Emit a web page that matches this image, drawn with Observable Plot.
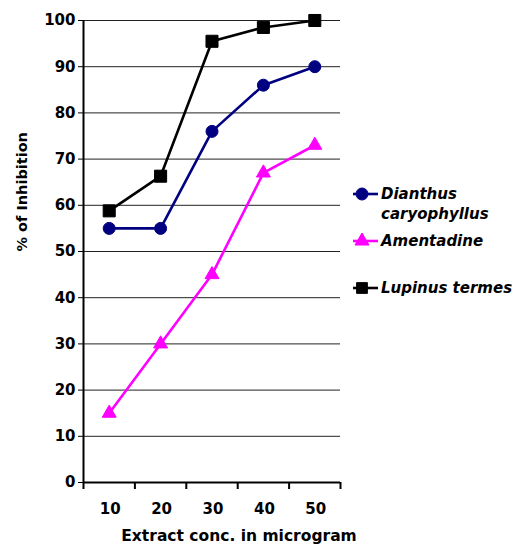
<!DOCTYPE html>
<html>
<head>
<meta charset="utf-8">
<script src="https://cdn.jsdelivr.net/npm/d3@7"></script>
<script src="https://cdn.jsdelivr.net/npm/@observablehq/plot@0.6"></script>
<style>
  html, body { margin: 0; padding: 0; background: #fff; }
  #wrap { position: relative; width: 520px; height: 547px; font-family: "DejaVu Sans", sans-serif; }
  #legend { position: absolute; left: 352px; top: 184px; font-weight: bold; font-style: italic; font-size: 15px; color: #000; font-family: "DejaVu Sans", sans-serif; }
  .item { position: absolute; left: 0; white-space: nowrap; }
  .item svg { position: absolute; left: 0; top: 2px; }
  .item span { position: absolute; left: 29px; top: 0; line-height: 20px; }
</style>
</head>
<body>
<div id="wrap"></div>
<script>
const concentrations = [10, 20, 30, 40, 50];
const dianthus = [55, 55, 76, 86, 90];
const amentadine = [15, 30, 45, 67, 73];
const lupinus = [58.8, 66.3, 95.5, 98.5, 100];
const yTicks = [0, 10, 20, 30, 40, 50, 60, 70, 80, 90, 100];
const xBoundaries = [5, 15, 25, 35, 45, 55];

const seriesNames = ["Dianthus caryophyllus", "Amentadine", "Lupinus termes"];
const seriesValues = [dianthus, amentadine, lupinus];
const seriesColors = ["#000080", "#ff00ff", "#000000"];
const seriesSymbols = ["circle", "triangle", "square"];
const seriesR = [6, 5.2, 6.8];

const rows = [];
seriesNames.forEach((name, i) => {
  concentrations.forEach((c, j) => rows.push({series: name, x: c, y: seriesValues[i][j]}));
});

const font = "'DejaVu Sans', sans-serif";

const marks = [
  Plot.ruleY(yTicks.filter(d => d > 0), {stroke: "#222", strokeWidth: 1}),
  Plot.axisY({ticks: yTicks, tickSize: 5, tickPadding: 3, label: null, fontSize: 15, fontWeight: "bold"}),
  Plot.axisX({ticks: xBoundaries, tickSize: 7, tickFormat: () => "", label: null, strokeWidth: 2}),
  Plot.axisX({ticks: concentrations, tickSize: 0, tickPadding: 21, label: null, fontSize: 15, fontWeight: "bold", dx: 1}),
  Plot.ruleY([0], {stroke: "#000", strokeWidth: 2}),
  Plot.ruleX([5], {stroke: "#000", strokeWidth: 2}),
  Plot.text(["% of Inhibition"], {frameAnchor: "left", rotate: -90, dx: -61, fontSize: 14.5, fontWeight: "bold", fill: "#000"}),
  Plot.text(["Extract conc. in microgram"], {frameAnchor: "bottom", lineAnchor: "middle", dx: 27, dy: 54, fontSize: 15.5, fontWeight: "bold", fill: "#000"})
];

seriesNames.forEach((name, i) => {
  const data = rows.filter(r => r.series === name);
  marks.push(Plot.line(data, {x: "x", y: "y", stroke: seriesColors[i], strokeWidth: 2.6}));
  marks.push(Plot.dot(data, {x: "x", y: "y", symbol: seriesSymbols[i], r: seriesR[i], fill: seriesColors[i], stroke: seriesColors[i], strokeWidth: 1}));
});

const chart = Plot.plot({
  width: 520,
  height: 547,
  marginLeft: 83,
  marginRight: 180,
  marginTop: 20,
  marginBottom: 65,
  style: {fontFamily: font, color: "#000", background: "#fff"},
  x: {type: "linear", domain: [5, 55], axis: null},
  y: {domain: [0, 100], axis: null},
  marks
});

const wrap = document.getElementById("wrap");
wrap.appendChild(chart);

// Legend (HTML, built from the series arrays)
const legend = document.createElement("div");
legend.id = "legend";
const legendTops = [0, 47, 94];
const legendLabels = [["Dianthus", "caryophyllus"], ["Amentadine"], ["Lupinus termes"]];
seriesNames.forEach((name, i) => {
  const item = document.createElement("div");
  item.className = "item";
  item.style.top = legendTops[i] + "px";
  const sym = d3.symbol(i === 0 ? d3.symbolCircle : i === 1 ? d3.symbolTriangle : d3.symbolSquare, Math.PI * seriesR[i] * seriesR[i] * (i === 2 ? 0.8 : 1))();
  item.innerHTML = `<svg width="27" height="16" viewBox="0 0 27 16">
      <line x1="1" x2="26" y1="8" y2="8" stroke="${seriesColors[i]}" stroke-width="2.6"/>
      <path d="${sym}" transform="translate(10,8)" fill="${seriesColors[i]}" stroke="${seriesColors[i]}"/>
    </svg><span>${legendLabels[i].join("<br>")}</span>`;
  legend.appendChild(item);
});
wrap.appendChild(legend);
</script>
</body>
</html>
